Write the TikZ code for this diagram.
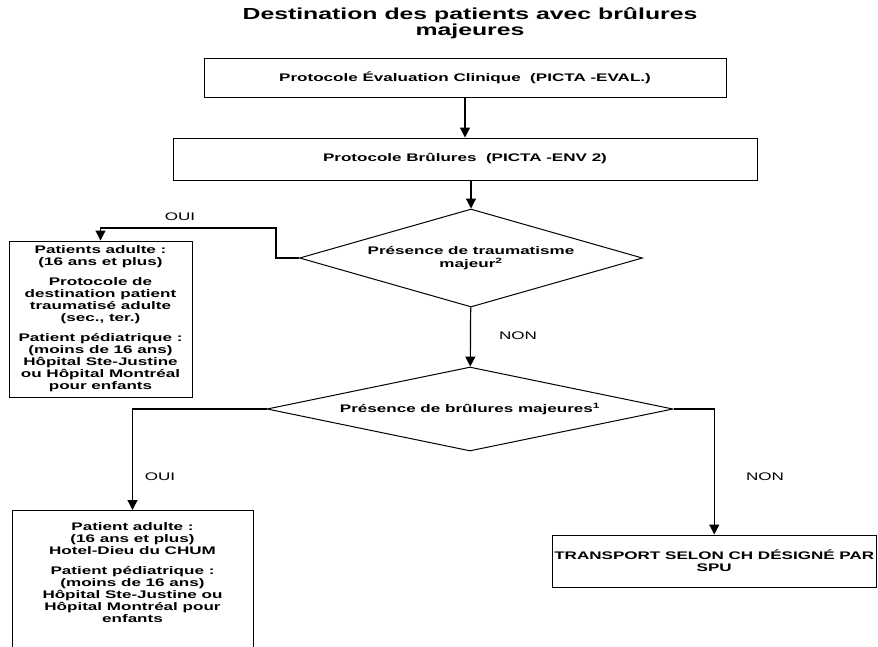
\documentclass[tikz,border=0pt]{standalone}
\usepackage{fontspec}
\setmainfont{Liberation Sans}[FakeStretch=1.55]
\usetikzlibrary{shapes.geometric,arrows.meta}

\tikzset{pbox/.style = {shape = rectangle,
                        draw,
                        line width = 1pt,
                        inner sep = 2pt,
                        align = center,
                        font = \fontsize{11}{12}\selectfont\bfseries},
         pdiam/.style = {shape = diamond,
                         draw,
                         line width = 1pt,
                         inner sep = 0pt,
                         align = center,
                         font = \fontsize{11}{13}\selectfont\bfseries},
         plabel/.style = {font = \fontsize{11}{12}\selectfont},
         parrow/.style = {line width = 1.2pt,
                          -{Triangle[width = 10pt, length = 10pt]}}}

\begin{document}
\begin{tikzpicture}[x = 1pt, y = -1pt]
		\clip (0,0) rectangle (878,646);
		\node[font = \fontsize{16}{14}\selectfont\bfseries, align = center] (title) at (470,23) {Destination des patients avec brûlures\\majeures};
		\node[pbox, minimum width = 522pt, minimum height = 39pt] (eval) at (465,77.5) {Protocole Évaluation Clinique~~(PICTA -EVAL.)};
		\node[pbox, minimum width = 584pt, minimum height = 42pt] (env) at (465,159) {Protocole Brûlures~~(PICTA -ENV 2)};
		\node[pdiam, aspect = 3.5, minimum width = 343pt, minimum height = 98pt] (d1) at (471,258) {Présence de traumatisme\\majeur\textsuperscript{2}};
		\node[pdiam, aspect = 4.8, minimum width = 406pt, minimum height = 84pt] (d2) at (470,409) {Présence de brûlures majeures\textsuperscript{1}};
		\node[pbox, minimum width = 183pt, minimum height = 156pt] (left1) at (100.5,319) {Patients adulte :\\(16 ans et plus)\\[8pt]Protocole de\\destination patient\\traumatisé adulte\\(sec., ter.)\\[8pt]Patient pédiatrique :\\(moins de 16 ans)\\Hôpital Ste-Justine\\ou Hôpital Montréal\\pour enfants};
		\node[pbox, anchor = north, minimum width = 241pt, inner ysep = 12pt, text depth = 130pt] (left2) at (132.5,510) {Patient adulte :\\(16 ans et plus)\\Hotel-Dieu du CHUM\\[8pt]Patient pédiatrique :\\(moins de 16 ans)\\Hôpital Ste-Justine ou\\Hôpital Montréal pour\\enfants};
		\node[pbox, minimum width = 324.5pt, minimum height = 52pt] (right) at (714.25,561) {TRANSPORT SELON CH DÉSIGNÉ PAR\\SPU};
		\node[plabel] (oui1) at (180,217) {OUI};
		\node[plabel] (non1) at (518,336) {NON};
		\node[plabel] (oui2) at (160,477) {OUI};
		\node[plabel] (non2) at (765,477) {NON};
		\draw[parrow] (eval) -- (env);
		\draw[parrow] (env.south -| d1.north) -- (d1.north);
		\draw[parrow] (d1.west) -| ++(-23,-30) -| (left1.north);
		\draw[parrow] (d1) -- (d2);
		\draw[parrow] (d2.west) -| (left2.north);
		\draw[parrow] (d2.east) -| (right.north);
	\end{tikzpicture}
\end{document}
